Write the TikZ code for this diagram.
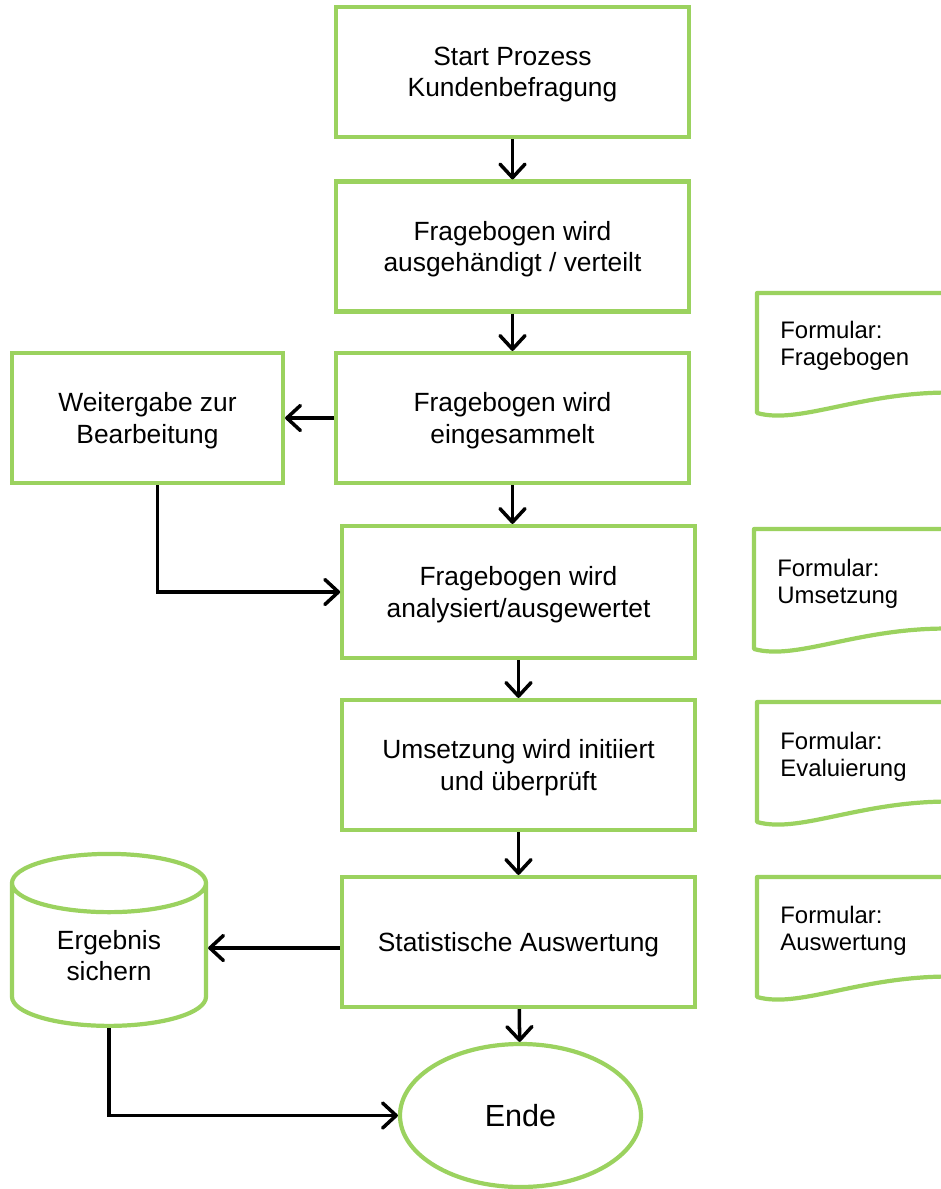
\documentclass[tikz,border=0pt]{standalone}
\usepackage{fontspec}
\setmainfont{Liberation Sans}
\usetikzlibrary{arrows.meta,shapes.geometric}
\definecolor{boxgreen}{RGB}{155,210,95}

\begin{document}
\begin{tikzpicture}[
  step box/.style={rectangle, draw=boxgreen, line width=2.4pt, fill=white,
                   minimum width=7.05cm, minimum height=2.6cm, align=center,
                   text depth=0pt, font=\fontsize{15}{17.8}\selectfont},
  store/.style={cylinder, shape border rotate=90, aspect=0.56, draw=boxgreen,
                line width=2.4pt, minimum width=3.88cm, minimum height=3.44cm,
                inner sep=0pt, align=center, font=\fontsize{15}{17.8}\selectfont},
  stop/.style={ellipse, draw=boxgreen, line width=2.4pt, inner sep=0pt,
               minimum width=4.82cm, minimum height=2.86cm,
               font=\fontsize{17.4}{20}\selectfont},
  form/.style={draw=boxgreen, line width=2.4pt, line join=round},
  formtext/.style={anchor=west, inner sep=0pt, align=left,
                   font=\fontsize{13.6}{15.4}\selectfont},
  arr/.style={line width=2pt, -{Straight Barb[round, length=2.7mm, width=5mm]}},
]
  \useasboundingbox (0,0) rectangle (18.82,-23.78);

  % Process steps
  \node[step box] (start)   at (10.25,-1.44)  {Start Prozess\\Kundenbefragung};
  \node[step box] (verteilt) at (10.25,-4.93) {Fragebogen wird\\ausgehändigt / verteilt};
  \node[step box] (gesammelt) at (10.25,-8.36) {Fragebogen wird\\eingesammelt};
  \node[step box, minimum width=5.42cm] (weitergabe) at (2.95,-8.36) {Weitergabe zur\\Bearbeitung};
  \node[step box, minimum height=2.64cm] (analyse) at (10.37,-11.84) {Fragebogen wird\\analysiert/ausgewertet};
  \node[step box] (umsetzung) at (10.37,-15.3) {Umsetzung wird initiiert\\und überprüft};
  \node[step box] (statistik) at (10.37,-18.84) {Statistische Auswertung};
  \node[store] (ergebnis) at (2.18,-19.11) {Ergebnis\\sichern};
  \node[stop] (ende) at (10.41,-22.31) {Ende};

  % Connectors
  \draw[arr] (start) -- (verteilt);
  \draw[arr] (verteilt) -- (gesammelt);
  \draw[arr] (gesammelt.west) -- (weitergabe.east);
  \draw[arr] (gesammelt.south) -- (gesammelt.south |- analyse.north);
  \draw[arr] ([xshift=0.2cm]weitergabe.south) |- (analyse.west);
  \draw[arr] (analyse) -- (umsetzung);
  \draw[arr] (umsetzung) -- (statistik);
  \draw[arr] ([yshift=-0.12cm]statistik.west) -- ([yshift=-0.12cm]statistik.west -| ergebnis.east);
  \draw[arr] (statistik) -- (ende);
  \draw[arr] (ergebnis.south) |- (ende.west);

  % Forms (cut by the right margin)
  \begin{scope}
    \clip (0,0) rectangle (18.82,-23.78);
    \draw[form] (19.4,-5.86) -- (15.14,-5.86) -- (15.14,-8.26)
      .. controls (16.04,-8.51) and (17.34,-7.76) .. (19.34,-7.86);
    \draw[form] (19.4,-10.58) -- (15.08,-10.58) -- (15.08,-12.98)
      .. controls (15.98,-13.23) and (17.28,-12.48) .. (19.28,-12.58);
    \draw[form] (19.4,-14.04) -- (15.14,-14.04) -- (15.14,-16.44)
      .. controls (16.04,-16.69) and (17.34,-15.94) .. (19.34,-16.04);
    \draw[form] (19.4,-17.54) -- (15.14,-17.54) -- (15.14,-19.94)
      .. controls (16.04,-20.19) and (17.34,-19.44) .. (19.34,-19.54);
  \end{scope}
  \node[formtext] (form1) at (15.6,-6.92)  {Formular:\\Fragebogen};
  \node[formtext] (form2) at (15.54,-11.67) {Formular:\\Umsetzung};
  \node[formtext] (form3) at (15.6,-15.14) {Formular:\\Evaluierung};
  \node[formtext] (form4) at (15.6,-18.62) {Formular:\\Auswertung};
\end{tikzpicture}
\end{document}
